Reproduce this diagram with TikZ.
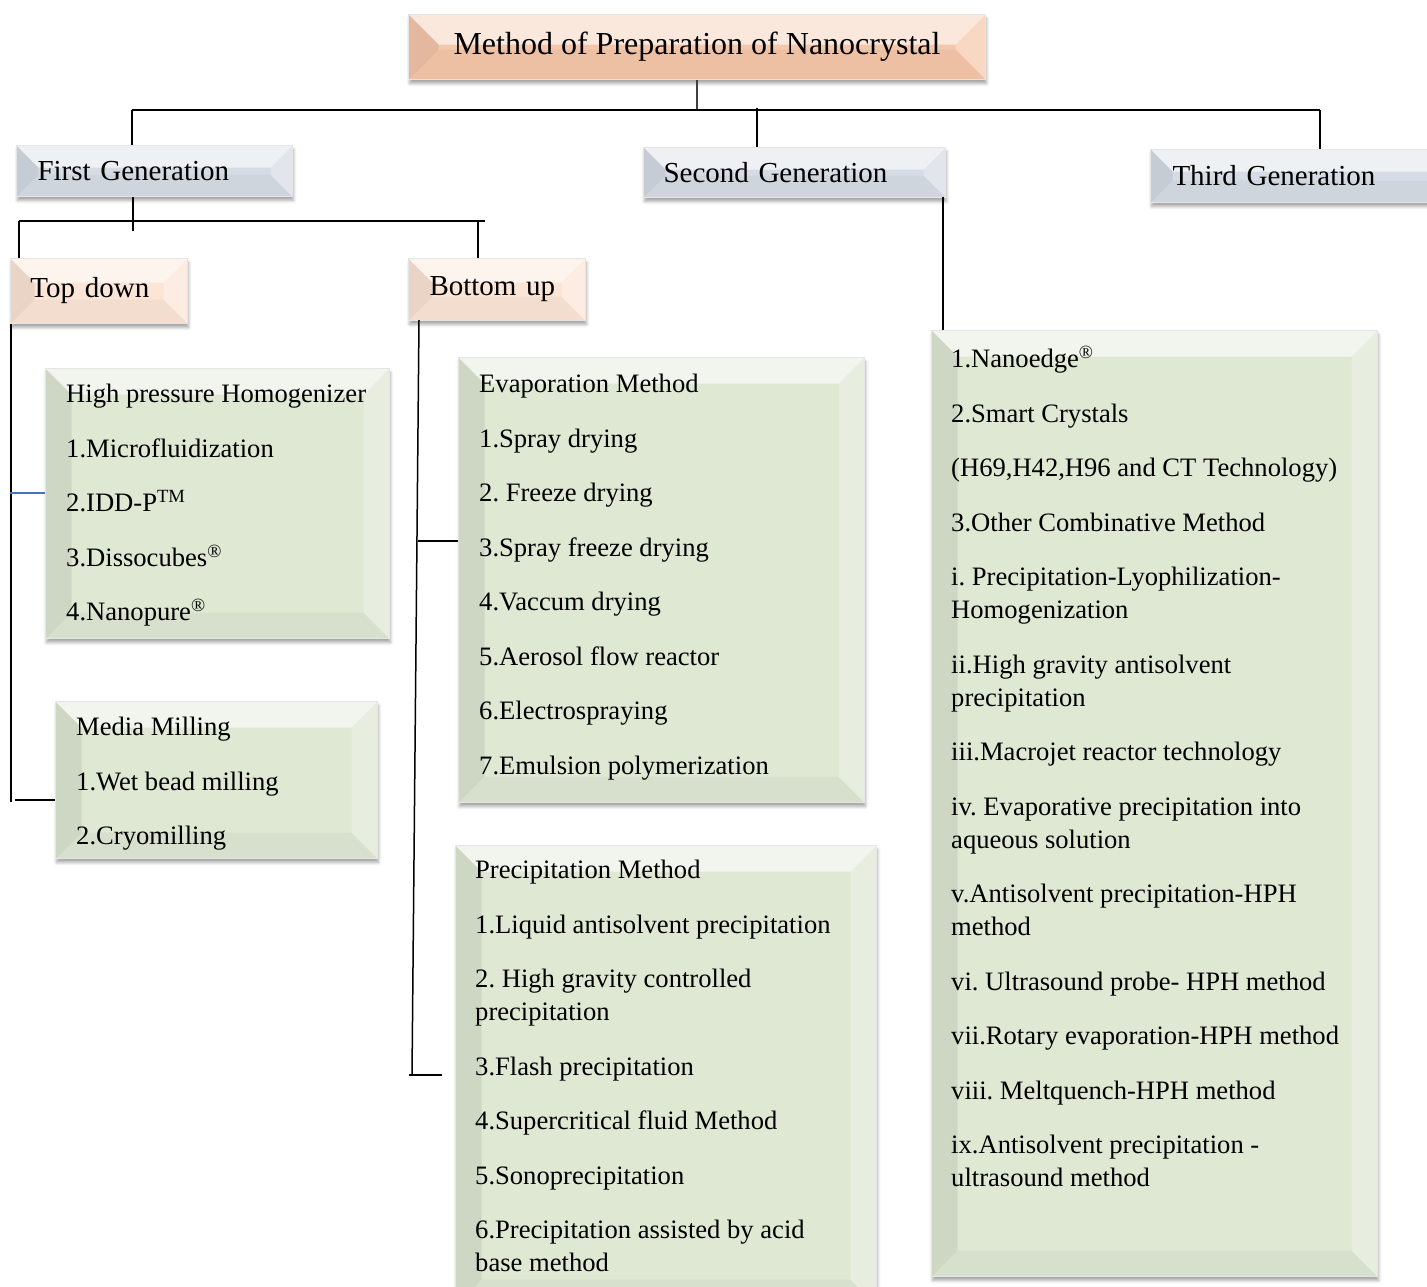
\documentclass[tikz,border=0pt]{standalone}
\usepackage{fontspec}
\setmainfont{Liberation Serif}
\usetikzlibrary{positioning,shadows.blur}
\frenchspacing

\definecolor{titlepeach}{HTML}{F5C7AA}
\definecolor{genblue}{HTML}{D6DCE5}
\definecolor{lightpeach}{HTML}{FBE5D6}
\definecolor{listgreen}{HTML}{DEE8D3}
\definecolor{linkblue}{HTML}{4472C4}

\newcommand\genfont{\fontsize{29}{34}\selectfont}
\newcommand\listfont{\fontsize{26.6}{33}\selectfont}
\newcommand\itemgap{\\[21.5pt]}

\tikzset{
  bevel inset/.initial=24,
  bevel/.style={path picture={
    \pgfmathsetmacro\bvi{\pgfkeysvalueof{/tikz/bevel inset}}
    \coordinate (nw) at (path picture bounding box.north west);
    \coordinate (ne) at (path picture bounding box.north east);
    \coordinate (sw) at (path picture bounding box.south west);
    \coordinate (se) at (path picture bounding box.south east);
    % facets of the bevel
    \fill[white,opacity=.6] (nw) -- (ne) -- ([shift={(-\bvi pt,-\bvi pt)}]ne) -- ([shift={(\bvi pt,-\bvi pt)}]nw) -- cycle;
    \fill[black,opacity=.07] (nw) -- ([shift={(\bvi pt,-\bvi pt)}]nw) -- ([shift={(\bvi pt,\bvi pt)}]sw) -- (sw) -- cycle;
    \fill[white,opacity=.3] (ne) -- (se) -- ([shift={(-\bvi pt,\bvi pt)}]se) -- ([shift={(-\bvi pt,-\bvi pt)}]ne) -- cycle;
    \fill[black,opacity=.03] (sw) -- ([shift={(\bvi pt,\bvi pt)}]sw) -- ([shift={(-\bvi pt,\bvi pt)}]se) -- (se) -- cycle;
  }},
  boxbase/.style={bevel, draw=black!10, line width=1pt, anchor=north west,
    blur shadow={shadow xshift=1pt, shadow yshift=-4pt, shadow blur radius=3pt, shadow opacity=35}},
  genbox/.style={boxbase, fill=genblue, align=left, font=\genfont, bevel inset=22},
  subbox/.style={boxbase, fill=lightpeach, align=left, font=\genfont, bevel inset=24},
  listbox/.style={boxbase, fill=listgreen, bevel inset=26},
  listtext/.style={align=left, inner sep=0pt, font=\listfont, execute at begin node={\rule{0pt}{20pt}}},
  link/.style={line width=1.5pt, black},
}

\begin{document}
\begin{tikzpicture}[x=1pt, y=-1pt]
    \useasboundingbox (0,0) rectangle (1427,1286);

    % Title
    \node[boxbase, fill=titlepeach, bevel inset=30, minimum width=577, minimum height=65,
          font=\fontsize{32}{38}\selectfont] (title) at (408,14) {Method of Preparation of Nanocrystal};

    % Generations
    \node[genbox, minimum width=276, minimum height=51, inner xsep=21, text width=234] (fg) at (16,145) {First Generation};
    \node[genbox, minimum width=302, minimum height=50, inner xsep=20, text width=262] (sg) at (643,147) {Second Generation};
    \node[genbox, minimum width=300, minimum height=53, inner xsep=22, text width=256] (tg) at (1150,149) {Third Generation};

    % Top down / Bottom up
    \node[subbox, minimum width=177, minimum height=65, inner xsep=20, text width=137] (td) at (10,258) {Top down};
    \node[subbox, minimum width=177, minimum height=62, inner xsep=21, text width=135] (bu) at (408,258) {Bottom up};

    % List boxes
    \node[listbox, minimum width=344, minimum height=270] (hph) at (45,368) {};
    \node[listtext, below right=16pt and 21pt of hph.north west] (hphT)
      {High pressure Homogenizer\itemgap 1.Microfluidization\itemgap 2.IDD-P\textsuperscript{TM}\itemgap
       3.Dissocubes\textsuperscript{®}\itemgap 4.Nanopure\textsuperscript{®}};

    \node[listbox, minimum width=322, minimum height=157] (mm) at (55,701) {};
    \node[listtext, below right=16pt and 21pt of mm.north west] (mmT)
      {Media Milling\itemgap 1.Wet bead milling\itemgap 2.Cryomilling};

    \node[listbox, minimum width=406, minimum height=445] (evap) at (458,357) {};
    \node[listtext, below right=17pt and 21pt of evap.north west] (evapT)
      {Evaporation Method\itemgap 1.Spray drying\itemgap 2. Freeze drying\itemgap 3.Spray freeze drying\itemgap
       4.Vaccum drying\itemgap 5.Aerosol flow reactor\itemgap 6.Electrospraying\itemgap 7.Emulsion polymerization};

    \node[listbox, minimum width=421, minimum height=460] (prec) at (455,845) {};
    \node[listtext, below right=15pt and 20pt of prec.north west] (precT)
      {Precipitation Method\itemgap 1.Liquid antisolvent precipitation\itemgap 2. High gravity controlled\\precipitation\itemgap
       3.Flash precipitation\itemgap 4.Supercritical fluid Method\itemgap 5.Sonoprecipitation\itemgap
       6.Precipitation assisted by acid\\base method};

    \node[listbox, minimum width=446, minimum height=946] (sgl) at (931,330) {};
    \node[listtext, below right=16pt and 20pt of sgl.north west] (sglT)
      {1.Nanoedge\textsuperscript{®}\itemgap 2.Smart Crystals\itemgap (H69,H42,H96 and CT Technology)\itemgap
       3.Other Combinative Method\itemgap i. Precipitation-Lyophilization-\\Homogenization\itemgap
       ii.High gravity antisolvent\\precipitation\itemgap iii.Macrojet reactor technology\itemgap
       iv. Evaporative precipitation into\\aqueous solution\itemgap v.Antisolvent precipitation-HPH\\method\itemgap
       vi. Ultrasound probe- HPH method\itemgap vii.Rotary evaporation-HPH method\itemgap
       viii. Meltquench-HPH method\itemgap ix.Antisolvent precipitation -\\ultrasound method};

    % Connectors from the title
    \coordinate (busL) at (132,110);
    \coordinate (busR) at (1320,110);
    \coordinate (sgdrop) at (757,108);
    \draw[link, black!75, line width=2pt] (title.south) -- (title.south |- busL);
    \draw[link] (busL) -- (busR);
    \draw[link] (busL) -- (busL |- fg.north);
    \draw[link] (sgdrop) -- (sgdrop |- sg.north);
    \draw[link] (busR) -- (busR |- tg.north);

    % First generation split
    \coordinate (fgdrop) at (133,231);
    \coordinate (fgL) at (19,221);
    \coordinate (fgR) at (485,221);
    \coordinate (buT) at (478,221);
    \draw[link] (fgdrop |- fg.south) -- (fgdrop);
    \draw[link] (fgL) -- (fgR);
    \draw[link] (fgL) -- (fgL |- td.north);
    \draw[link] (buT) -- (buT |- bu.north);

    % Top down branch
    \coordinate (tdA) at (11,802);
    \coordinate (tdB) at (10,493);
    \coordinate (tdC) at (15,800);
    \draw[link] (tdA |- td.south) -- (tdA);
    \draw[link] (tdC) -- (tdC -| mm.west);
    \draw[linkblue, line width=1.2pt] (tdB) -- (tdB -| hph.west);

    % Bottom up branch
    \coordinate (buA) at (419,320);
    \coordinate (buB) at (412,1075);
    \coordinate (buC) at (418,541);
    \coordinate (buD) at (409,1075);
    \coordinate (buE) at (442,1075);
    \draw[link] (buA) -- (buB);
    \draw[link] (buC) -- (buC -| evap.west);
    \draw[link] (buD) -- (buE);

    % Second generation branch
    \coordinate (sgA) at (943,197);
    \draw[link] (sgA) -- (sgA |- sgl.north);
\end{tikzpicture}
\end{document}
